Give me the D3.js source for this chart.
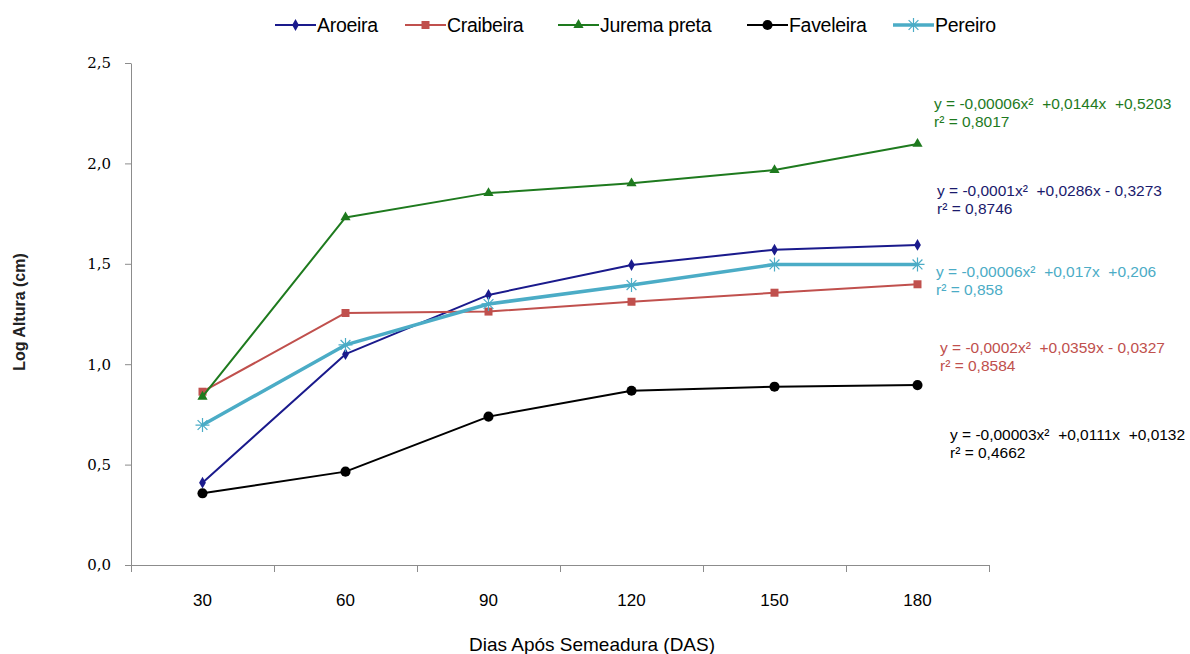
<!DOCTYPE html>
<html>
<head>
<meta charset="utf-8">
<script src="https://cdn.jsdelivr.net/npm/d3@7"></script>
<style>
  body { margin: 0; background: #fff; }
  svg { display: block; }
</style>
</head>
<body>
<div id="chart"></div>
<script>
// Data
const days = ["30", "60", "90", "120", "150", "180"];
const aroeira   = [0.41, 1.05, 1.345, 1.494, 1.57, 1.594];
const craibeira = [0.863, 1.255, 1.262, 1.311, 1.356, 1.398];
const jurema    = [0.838, 1.731, 1.852, 1.901, 1.967, 2.097];
const faveleira = [0.357, 0.465, 0.739, 0.868, 0.888, 0.896];
const pereiro   = [0.697, 1.096, 1.30, 1.394, 1.497, 1.497];
const yTicks = [0, 0.5, 1.0, 1.5, 2.0, 2.5];

const series = [
    { name: "Aroeira", values: aroeira, color: "#1a1a8c", width: 2, marker: "diamond" },
    { name: "Craibeira", values: craibeira, color: "#c0504d", width: 2, marker: "square" },
    { name: "Jurema preta", values: jurema, color: "#1e7a1e", width: 2, marker: "triangle" },
    { name: "Faveleira", values: faveleira, color: "#000000", width: 2, marker: "circle" },
    { name: "Pereiro", values: pereiro, color: "#4bacc6", width: 3.5, marker: "asterisk" }
];

// Trend line equations (text labels)
const equations = [
    { eq: "y = -0,00006x\u00b2  +0,0144x  +0,5203", r2: "r\u00b2 = 0,8017", color: "#1e7a1e", x: 934, y: 109 },
    { eq: "y = -0,0001x\u00b2  +0,0286x - 0,3273", r2: "r\u00b2 = 0,8746", color: "#1a1a6c", x: 937, y: 196 },
    { eq: "y = -0,00006x\u00b2  +0,017x  +0,206", r2: "r\u00b2 = 0,858", color: "#4bacc6", x: 936, y: 277 },
    { eq: "y = -0,0002x\u00b2  +0,0359x - 0,0327", r2: "r\u00b2 = 0,8584", color: "#c0504d", x: 940, y: 353 },
    { eq: "y = -0,00003x\u00b2  +0,0111x  +0,0132", r2: "r\u00b2 = 0,4662", color: "#000000", x: 950, y: 440 }
];

const W = 1190, H = 654;
const sans = "'Liberation Sans', Arial, sans-serif";
const svg = d3.select("#chart").append("svg")
    .attr("width", W)
    .attr("height", H);

const x = d3.scaleBand().domain(days).range([131, 989]);
const xb = d3.scaleLinear().domain([0, days.length]).range([131, 989]);
const y = d3.scaleLinear().domain([0, 2.5]).range([565, 63]);

// Y axis
const yAxis = svg.append("g")
    .attr("transform", "translate(131,0)")
    .attr("font-family", "'DejaVu Serif', serif")
    .attr("font-size", 15)
    .call(d3.axisLeft(y).tickValues(yTicks).tickSize(6).tickSizeOuter(0)
        .tickFormat(d => d3.format(".1f")(d).replace(".", ",")));
yAxis.attr("font-family", "'DejaVu Serif', serif").attr("font-size", 15);
yAxis.select(".domain").attr("stroke", "#8c8c8c");
yAxis.selectAll(".tick line").attr("stroke", "#8c8c8c");
yAxis.selectAll(".tick text")
    .attr("x", -20)
    .attr("fill", "#000");

// X axis tick marks at band boundaries
const xMarks = svg.append("g")
    .attr("transform", "translate(0,565)")
    .call(d3.axisBottom(xb).tickValues(d3.range(0, days.length + 1)).tickSize(7).tickSizeOuter(0).tickFormat(""));
xMarks.select(".domain").attr("stroke", "#8c8c8c");
xMarks.selectAll(".tick line").attr("stroke", "#8c8c8c");

// X axis labels
const xLabels = svg.append("g")
    .attr("transform", "translate(0,565)")
    .call(d3.axisBottom(x).tickSize(0));
xLabels.attr("font-family", sans).attr("font-size", 17);
xLabels.select(".domain").remove();
xLabels.selectAll(".tick text")
    .attr("dy", "0")
    .attr("y", 41)
    .attr("fill", "#000");

// Axis titles
svg.append("text")
    .attr("x", 592).attr("y", 651)
    .attr("text-anchor", "middle")
    .attr("font-family", sans)
    .attr("font-size", 19)
    .text("Dias Após Semeadura (DAS)");

svg.append("text")
    .attr("transform", "translate(25,312) rotate(-90)")
    .attr("text-anchor", "middle")
    .attr("font-family", sans)
    .attr("font-size", 16)
    .attr("font-weight", "bold")
    .attr("fill", "#222")
    .text("Log Altura (cm)");

// Markers
function drawMarker(g, type, color) {
    if (type === "diamond") {
        g.append("path").attr("d", d3.symbol(d3.symbolDiamond, 40)()).attr("fill", color);
    } else if (type === "square") {
        g.append("path").attr("d", d3.symbol(d3.symbolSquare, 64)()).attr("fill", color);
    } else if (type === "triangle") {
        g.append("path").attr("d", d3.symbol(d3.symbolTriangle, 45)()).attr("fill", color);
    } else if (type === "circle") {
        g.append("path").attr("d", d3.symbol(d3.symbolCircle, 80)()).attr("fill", color);
    } else if (type === "asterisk") {
        const r = 7;
        const p = d3.path();
        p.moveTo(-r, 0); p.lineTo(r, 0);
        p.moveTo(-r * 0.7, -r * 0.7); p.lineTo(r * 0.7, r * 0.7);
        p.moveTo(-r * 0.7, r * 0.7); p.lineTo(r * 0.7, -r * 0.7);
        p.moveTo(0, -r); p.lineTo(0, r);
        g.append("path").attr("d", p.toString()).attr("stroke", color).attr("stroke-width", 1.2).attr("fill", "none");
    }
}

const line = d3.line()
    .x((d, i) => x(days[i]) + x.bandwidth() / 2)
    .y(d => y(d));

series.forEach(s => {
    svg.append("path")
        .datum(s.values)
        .attr("d", line)
        .attr("fill", "none")
        .attr("stroke", s.color)
        .attr("stroke-width", s.width)
        .attr("stroke-linejoin", "round");
    s.values.forEach((v, i) => {
        const g = svg.append("g")
            .attr("transform", `translate(${x(days[i]) + x.bandwidth() / 2},${y(v)})`);
        drawMarker(g, s.marker, s.color);
    });
});

// Legend
const legendPos = [275, 405, 558, 747, 893];
series.forEach((s, i) => {
    const g = svg.append("g").attr("transform", `translate(${legendPos[i]},25)`);
    g.append("line")
        .attr("x1", 0).attr("x2", 41)
        .attr("stroke", s.color).attr("stroke-width", s.width);
    const m = g.append("g").attr("transform", "translate(20.5,0)");
    drawMarker(m, s.marker, s.color);
    g.append("text")
        .attr("x", 42).attr("y", 7)
        .attr("font-family", sans)
        .attr("font-size", 19.5)
        .attr("letter-spacing", -0.3)
        .text(s.name);
});

// Equations
equations.forEach(e => {
    const t = svg.append("text")
        .attr("x", e.x).attr("y", e.y)
        .attr("fill", e.color)
        .attr("font-family", sans)
        .attr("font-size", 15.5)
        .style("white-space", "pre");
    t.append("tspan").attr("x", e.x).text(e.eq);
    t.append("tspan").attr("x", e.x).attr("dy", 18).text(e.r2);
});
</script>
</body>
</html>
